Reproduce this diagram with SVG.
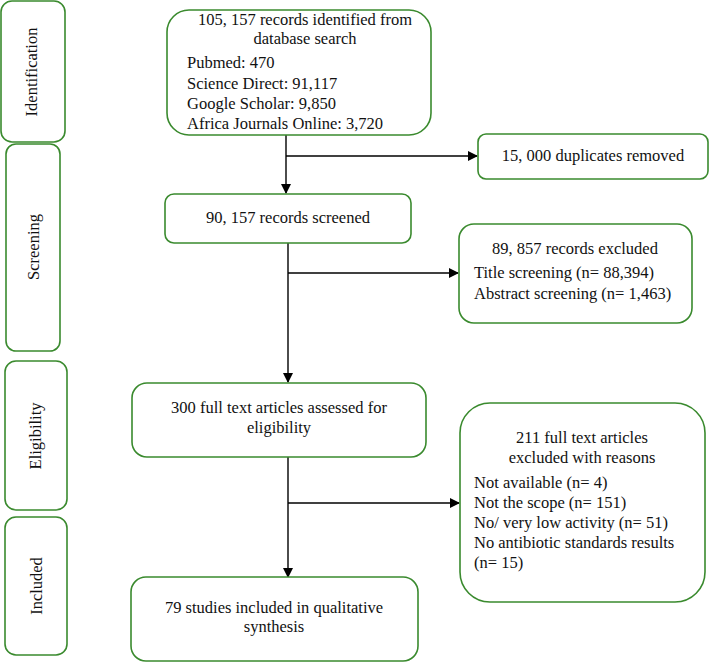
<svg xmlns="http://www.w3.org/2000/svg" width="709" height="662" viewBox="0 0 709 662">
<style>
.box{fill:#fff;stroke:#3a8a2e;stroke-width:1.6}
.t{font-family:"Liberation Serif","Times New Roman",serif;font-size:16.5px;fill:#111}
.c{text-anchor:middle}
.ln{stroke:#000;stroke-width:1.4;fill:none}
</style>
<defs>
<marker id="ah" markerWidth="10" markerHeight="10" refX="9" refY="5" orient="auto" markerUnits="userSpaceOnUse">
<path d="M0,0 L10,5 L0,10 Z" fill="#000"/>
</marker>
</defs>
<rect width="709" height="662" fill="#fff"/>
<g id="stage-identification">
<rect class="box" x="1" y="1" width="64" height="141" rx="11"/>
<text class="t c" transform="translate(37,72) rotate(-90)">Identification</text>
</g>
<g id="stage-screening">
<rect class="box" x="6" y="144" width="54" height="207" rx="10"/>
<text class="t c" transform="translate(39,247) rotate(-90)">Screening</text>
</g>
<g id="stage-eligibility">
<rect class="box" x="5" y="361" width="62" height="149" rx="11"/>
<text class="t c" transform="translate(41,436) rotate(-90)">Eligibility</text>
</g>
<g id="stage-included">
<rect class="box" x="5" y="517" width="62" height="138" rx="11"/>
<text class="t c" transform="translate(42,586) rotate(-90)">Included</text>
</g>
<g id="connectors">
<line class="ln" x1="286" y1="135" x2="286" y2="193" marker-end="url(#ah)"/>
<line class="ln" x1="286" y1="156" x2="477" y2="156" marker-end="url(#ah)"/>
<line class="ln" x1="288" y1="243" x2="288" y2="382" marker-end="url(#ah)"/>
<line class="ln" x1="288" y1="273" x2="458" y2="273" marker-end="url(#ah)"/>
<line class="ln" x1="288" y1="457" x2="288" y2="577" marker-end="url(#ah)"/>
<line class="ln" x1="288" y1="503" x2="459" y2="503" marker-end="url(#ah)"/>
</g>
<g id="identified">
<rect class="box" x="167" y="10" width="264" height="125" rx="22"/>
<text class="t c" x="305" y="25">105, 157 records identified from</text>
<text class="t c" x="305" y="44">database search</text>
<text class="t" x="187" y="68">Pubmed: 470</text>
<text class="t" x="187" y="89">Science Direct: 91,117</text>
<text class="t" x="187" y="109">Google Scholar: 9,850</text>
<text class="t" x="187" y="129">Africa Journals Online: 3,720</text>
</g>
<g id="duplicates">
<rect class="box" x="478" y="134" width="230" height="45" rx="8"/>
<text class="t c" x="593" y="161">15, 000 duplicates removed</text>
</g>
<g id="screened">
<rect class="box" x="165" y="194" width="246" height="49" rx="9"/>
<text class="t c" x="288" y="223">90, 157 records screened</text>
</g>
<g id="excluded">
<rect class="box" x="459" y="224" width="233" height="99" rx="15"/>
<text class="t c" x="575" y="254">89, 857 records excluded</text>
<text class="t" x="474" y="278">Title screening (n= 88,394)</text>
<text class="t" x="474" y="299">Abstract screening (n= 1,463)</text>
</g>
<g id="fulltext">
<rect class="box" x="132" y="383" width="294" height="74" rx="15"/>
<text class="t c" x="279" y="413">300 full text articles assessed for</text>
<text class="t c" x="279" y="433">eligibility</text>
</g>
<g id="fulltext-excluded">
<rect class="box" x="460" y="403" width="245" height="199" rx="30"/>
<text class="t c" x="582" y="443">211 full text articles</text>
<text class="t c" x="582" y="463">excluded with reasons</text>
<text class="t" x="474" y="488">Not available (n= 4)</text>
<text class="t" x="474" y="508">Not the scope (n= 151)</text>
<text class="t" x="474" y="528">No/ very low activity (n= 51)</text>
<text class="t" x="474" y="548">No antibiotic standards results</text>
<text class="t" x="474" y="568">(n= 15)</text>
</g>
<g id="included">
<rect class="box" x="131" y="577" width="287" height="84" rx="15"/>
<text class="t c" x="274" y="613">79 studies included in qualitative</text>
<text class="t c" x="274" y="632">synthesis</text>
</g>
</svg>
